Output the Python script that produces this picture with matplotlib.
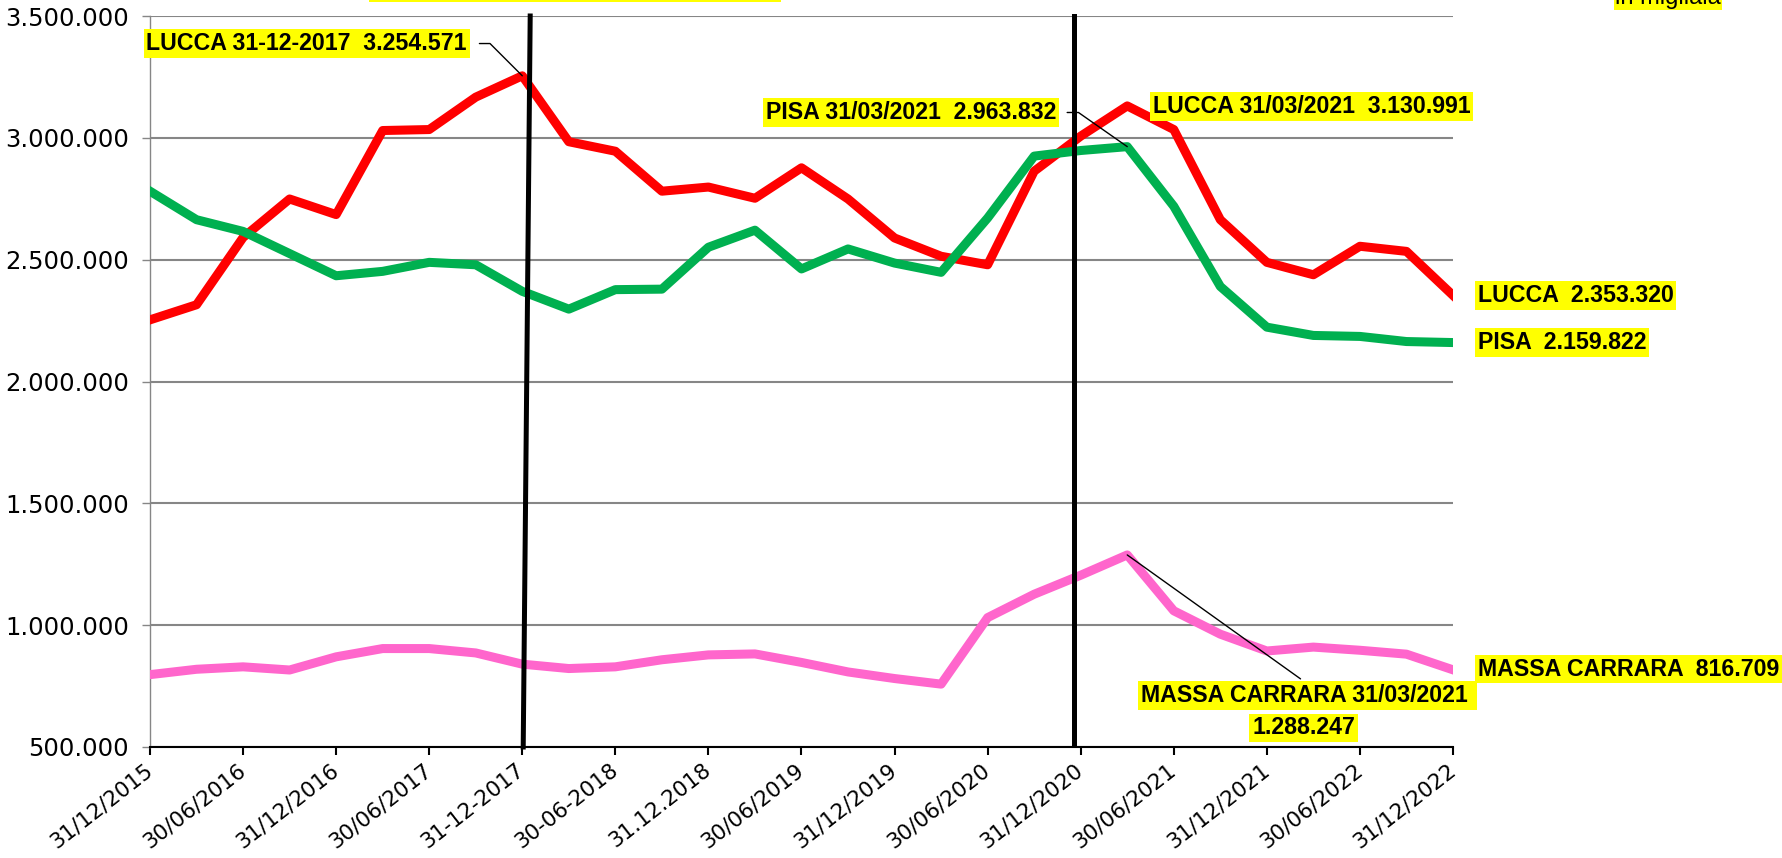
import matplotlib.pyplot as plt
import numpy as np
from matplotlib.ticker import FuncFormatter, MultipleLocator
from matplotlib.patches import Rectangle

# ---------- dati (valori trimestrali) ----------
date_labels = ['31/12/2015', '30/06/2016', '31/12/2016', '30/06/2017', '31-12-2017',
               '30-06-2018', '31.12.2018', '30/06/2019', '31/12/2019', '30/06/2020',
               '31/12/2020', '30/06/2021', '31/12/2021', '30/06/2022', '31/12/2022']

lucca = [2253000, 2315000, 2591000, 2749000, 2685000, 3030000, 3034000, 3167000,
         3254571, 2984000, 2945000, 2781000, 2798000, 2752000, 2877000, 2749000,
         2589000, 2514000, 2479000, 2863000, 3007000, 3130991, 3034000, 2664000,
         2489000, 2438000, 2555000, 2534000, 2353320]

pisa = [2781000, 2664000, 2616000, 2525000, 2434000, 2452000, 2489000, 2479000,
        2370000, 2297000, 2377000, 2379000, 2551000, 2621000, 2462000, 2544000,
        2486000, 2448000, 2671000, 2925000, 2948000, 2963832, 2719000, 2390000,
        2223000, 2189000, 2185000, 2164000, 2159822]

massa = [797000, 819000, 829000, 816000, 870000, 904000, 904000, 886000,
         840000, 822000, 829000, 858000, 878000, 882000, 847000, 808000,
         781000, 758000, 1031000, 1127000, 1205000, 1288247, 1059000, 963000,
         894000, 910000, 897000, 881000, 816709]

# linee verticali nere (inizio/fine periodo)
vline1_x = [8.02, 8.17]
vline1_y = [500000, 3500000]
vline2_x = [19.85, 19.85]
vline2_y = [518000, 3500000]

fig = plt.figure(figsize=(17.83, 8.58), dpi=100)
ax = fig.add_axes([150/1783, 1-747/858, (1453-150)/1783, (747-16)/858])

x = np.arange(len(lucca))
ax.plot(x, lucca, color='#FF0000', lw=6.5, zorder=3)
ax.plot(x, pisa, color='#00B050', lw=6.5, zorder=3)
ax.plot(x, massa, color='#FF66CC', lw=6.5, zorder=3)

ax.plot(vline1_x, vline1_y, color='black', lw=3.6, zorder=4, clip_on=False)
ax.plot(vline2_x, vline2_y, color='black', lw=3.6, zorder=4, clip_on=False)

ax.set_xlim(0, len(lucca)-1)
ax.set_ylim(500000, 3500000)
ax.yaxis.set_major_locator(MultipleLocator(500000))
ax.yaxis.set_major_formatter(FuncFormatter(lambda v, p: '{:,}'.format(int(v)).replace(',', '.')))
ax.set_xticks(np.arange(0, len(lucca), 2))
ax.set_xticklabels(date_labels)

ax.yaxis.grid(True, color='#868686', lw=1.5)
ax.set_axisbelow(True)
for s in ['top', 'right']:
    ax.spines[s].set_visible(False)
ax.spines['left'].set_color('#868686')
ax.spines['left'].set_linewidth(1)
ax.spines['bottom'].set_color('black')
ax.spines['bottom'].set_linewidth(1.5)

ax.tick_params(axis='y', length=6, width=1, color='#868686', pad=9, labelsize=17.5)
ax.tick_params(axis='x', length=6, width=1.5, color='black', pad=9, labelsize=15.5)
for lab in ax.get_xticklabels():
    lab.set_rotation(38)
    lab.set_ha('right')
    lab.set_va('center')
    lab.set_rotation_mode('anchor')

# ---------- etichette gialle ----------
bb = dict(boxstyle='square,pad=0.12', fc='#FFFF00', ec='none')
fnt = dict(fontsize=16.7, fontweight='bold', family='Liberation Sans')

ax.annotate('LUCCA 31-12-2017  3.254.571', xy=(8, lucca[8]), xytext=(6.81, 3387000),
            ha='right', va='center', bbox=bb, zorder=6, **fnt,
            arrowprops=dict(arrowstyle='-', color='black', lw=1, relpos=(1, 0.5),
                            connectionstyle='angle,angleA=0,angleB=-45,rad=0',
                            shrinkA=7, shrinkB=0))
ax.annotate('PISA 31/03/2021  2.963.832', xy=(21, pisa[21]), xytext=(19.47, 3104000),
            ha='right', va='center', bbox=bb, zorder=6, **fnt,
            arrowprops=dict(arrowstyle='-', color='black', lw=1, relpos=(1, 0.5),
                            connectionstyle='angle,angleA=0,angleB=-35,rad=0',
                            shrinkA=6, shrinkB=0))
ax.text(21.55, 3129000, 'LUCCA 31/03/2021  3.130.991', ha='left', va='center',
        bbox=bb, zorder=6, **fnt)
ax.annotate('MASSA CARRARA 31/03/2021 ', xy=(21, massa[21]), xytext=(24.88, 711000),
            ha='center', va='center', bbox=bb, zorder=6, **fnt,
            arrowprops=dict(arrowstyle='-', color='black', lw=1, relpos=(0.5, 1),
                            shrinkA=3, shrinkB=0))
ax.text(24.79, 578000, '1.288.247', ha='center', va='center', bbox=bb, zorder=6, **fnt)

ax.text(28.53, 2353000, 'LUCCA  2.353.320', ha='left', va='center', bbox=bb,
        clip_on=False, **fnt)
ax.text(28.53, 2160000, 'PISA  2.159.822', ha='left', va='center', bbox=bb,
        clip_on=False, **fnt)
ax.text(28.53, 820000, 'MASSA CARRARA  816.709', ha='left', va='center', bbox=bb,
        clip_on=False, **fnt)

# riquadri tagliati in alto (come nell'originale)
fig.patches.append(Rectangle((369/1783, 1-2/858), (781-369)/1783, 2/858,
                             transform=fig.transFigure, fc='#FFFF00', ec='none'))
fig.text(1668/1783, 1-4/858, 'in migliaia', ha='center', va='baseline',
         fontsize=17, family='Liberation Sans',
         bbox=dict(boxstyle='square,pad=0.05', fc='#FFFF00', ec='none'))

plt.savefig('out.png', dpi=100)
